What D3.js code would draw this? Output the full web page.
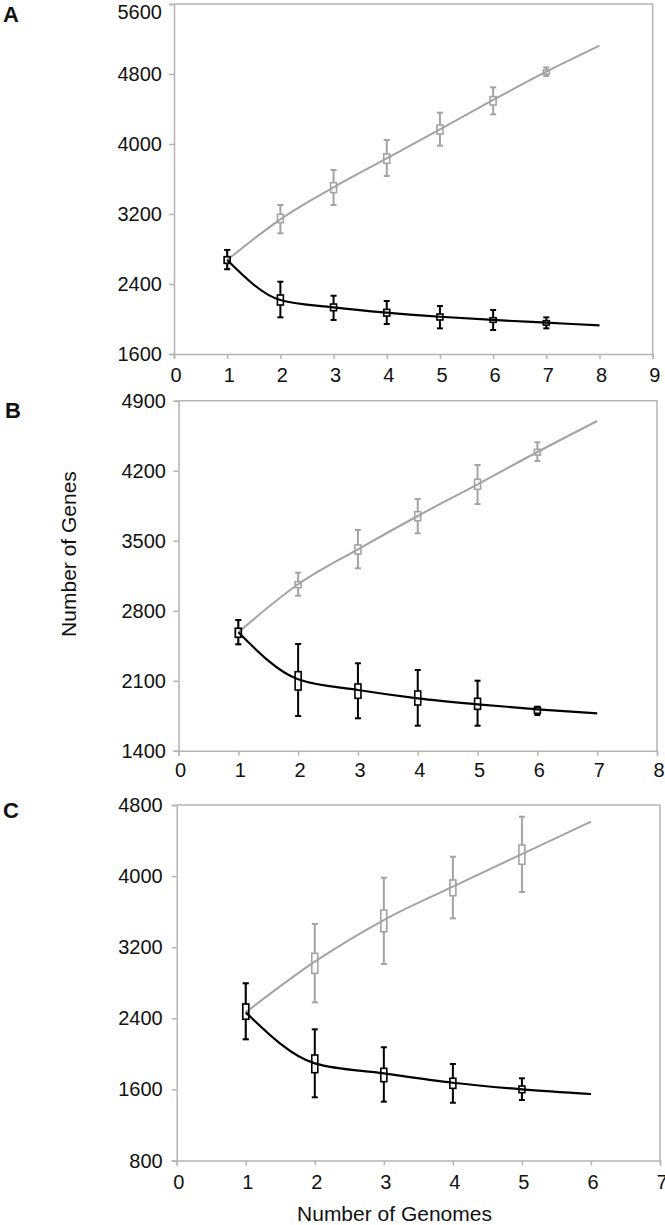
<!DOCTYPE html>
<html>
<head>
<meta charset="utf-8">
<script src="https://cdn.jsdelivr.net/npm/d3@7"></script>
<style>
  html, body { margin: 0; padding: 0; background: #fff; }
  svg { display: block; font-family: "Liberation Sans", Arial, sans-serif; }
  .lbl { font-size: 20px; font-family: "Liberation Sans", Arial, sans-serif; fill: #111; }
  .ttl { font-size: 21px; font-family: "Liberation Sans", Arial, sans-serif; fill: #111; }
  .let { font-size: 22px; font-weight: bold; font-family: "Liberation Sans", Arial, sans-serif; fill: #111; }
</style>
</head>
<body>
<svg id="chart" width="665" height="1225"></svg>
<script>
// ---------- Panel A ----------
const aGenomes = [1, 2, 3, 4, 5, 6, 7];
const aFitX = [1, 2, 3, 4, 5, 6, 7, 8];
const aYTicks = [1600, 2400, 3200, 4000, 4800, 5600];
const aXTicks = [0, 1, 2, 3, 4, 5, 6, 7, 8, 9];
const aPanMax = [2789, 3303, 3703, 4046, 4358, 4647, 4875];
const aPanQ3  = [2712, 3196, 3558, 3886, 4217, 4541, 4846];
const aPanQ1  = [2636, 3101, 3444, 3779, 4114, 4446, 4800];
const aPanMin = [2569, 2979, 3303, 3634, 3981, 4339, 4777];
const aPanFit = [2674, 3139, 3505, 3836, 4168, 4503, 4826, 5124];
const aCoreMax = [2789, 2426, 2266, 2206, 2149, 2103, 2019];
const aCoreQ3  = [2712, 2274, 2171, 2110, 2057, 2015, 1981];
const aCoreQ1  = [2636, 2160, 2095, 2034, 1989, 1962, 1931];
const aCoreMin = [2569, 2019, 1989, 1943, 1893, 1874, 1893];
const aCoreFit = [2674, 2217, 2133, 2072, 2026, 1989, 1958, 1927];

// ---------- Panel B ----------
const bGenomes = [1, 2, 3, 4, 5, 6];
const bFitX = [1, 2, 3, 4, 5, 6, 7];
const bYTicks = [1400, 2100, 2800, 3500, 4200, 4900];
const bXTicks = [0, 1, 2, 3, 4, 5, 6, 7, 8];
const bPanMax = [2707, 3180, 3607, 3917, 4257, 4484];
const bPanQ3  = [2624, 3090, 3457, 3790, 4114, 4414];
const bPanQ1  = [2534, 3030, 3367, 3700, 4014, 4357];
const bPanMin = [2464, 2950, 3224, 3574, 3867, 4297];
const bPanFit = [2584, 3064, 3414, 3747, 4064, 4387, 4697];
const bCoreMax = [2707, 2467, 2274, 2207, 2100, 1840];
const bCoreQ3  = [2624, 2190, 2067, 1997, 1924, 1834];
const bCoreQ1  = [2534, 2007, 1924, 1857, 1814, 1774];
const bCoreMin = [2464, 1747, 1724, 1650, 1650, 1757];
const bCoreFit = [2584, 2114, 2007, 1924, 1864, 1814, 1774];

// ---------- Panel C ----------
const cGenomes = [1, 2, 3, 4, 5];
const cFitX = [1, 2, 3, 4, 5, 6];
const cYTicks = [800, 1600, 2400, 3200, 4000, 4800];
const cXTicks = [0, 1, 2, 3, 4, 5, 6, 7];
const cPanMax = [2794, 3461, 3982, 4218, 4668];
const cPanQ3  = [2561, 3131, 3618, 3956, 4350];
const cPanQ1  = [2389, 2906, 3374, 3779, 4133];
const cPanMin = [2164, 2580, 3011, 3525, 3821];
const cPanFit = [2467, 3037, 3506, 3881, 4248, 4612];
const cCoreMax = [2794, 2276, 2074, 1886, 1725];
const cCoreQ3  = [2561, 1987, 1837, 1725, 1638];
const cCoreQ1  = [2389, 1788, 1687, 1612, 1563];
const cCoreMin = [2164, 1511, 1462, 1450, 1481];
const cCoreFit = [2467, 1893, 1781, 1675, 1601, 1548];

const yTitle = "Number of Genes";
const xTitle = "Number of Genomes";
const panelLetters = ["A", "B", "C"];

const GRAY = "#a3a3a3";
const AXIS = "#b4b4b4";
const svg = d3.select("#chart");

function zipSeries(xs, min, q1, q3, max) {
  return xs.map((x, i) => ({ x, min: min[i], q1: q1[i], q3: q3[i], max: max[i] }));
}

function drawPanel(p) {
  const x = d3.scaleLinear().domain(d3.extent(p.xTicks)).range([p.left, p.right]);
  const y = d3.scaleLinear().domain(d3.extent(p.yTicks)).range([p.bottom, p.top]);
  const g = svg.append("g");

  // frame (top & right)
  g.append("path")
    .attr("d", `M${p.left},${p.top}H${p.right}V${p.bottom}`)
    .attr("fill", "none").attr("stroke", AXIS).attr("stroke-width", 1.5);

  const yAxis = g.append("g").attr("transform", `translate(${p.left},0)`)
    .call(d3.axisLeft(y).tickValues(p.yTicks).tickSize(5).tickFormat(""));
  const xAxis = g.append("g").attr("transform", `translate(0,${p.bottom})`)
    .call(d3.axisBottom(x).tickValues(p.xTicks).tickSize(5).tickFormat(""));
  [yAxis, xAxis].forEach(ax => {
    ax.select(".domain").attr("stroke", AXIS).attr("stroke-width", 1.5);
    ax.selectAll(".tick line").attr("stroke", AXIS).attr("stroke-width", 1.5);
    ax.selectAll(".tick text").remove();
  });

  // tick labels
  g.append("g").selectAll("text").data(p.yTicks).join("text")
    .attr("class", "lbl")
    .attr("x", p.left - 5 - p.yPad)
    .attr("y", d => Math.max(12, y(d)))
    .attr("dy", "0.35em")
    .attr("text-anchor", "end")
    .text(d => d3.format("d")(d));
  g.append("g").selectAll("text").data(p.xTicks).join("text")
    .attr("class", "lbl")
    .attr("x", d => x(d) + 2)
    .attr("y", p.bottom + p.xOff)
    .attr("dy", "0.35em")
    .attr("text-anchor", "middle")
    .text(d => d3.format("d")(d));

  const line = d3.line().x(d => x(d[0])).y(d => y(d[1])).curve(d3.curveMonotoneX);

  const series = [
    { color: GRAY, fit: p.panFit, boxes: p.pan, lw: 2 },
    { color: "#000", fit: p.coreFit, boxes: p.core, lw: 2.2 }
  ];
  const bw = 6, cap = 6;
  series.forEach(s => {
    g.append("path").datum(p.fitX.map((xv, i) => [xv, s.fit[i]]))
      .attr("d", line).attr("fill", "none").attr("stroke", s.color).attr("stroke-width", s.lw);
    const bg = g.append("g").attr("stroke", s.color).attr("fill", "none");
    const b = bg.selectAll("g").data(s.boxes).join("g");
    b.append("line").attr("x1", d => x(d.x)).attr("x2", d => x(d.x))
      .attr("y1", d => y(d.max)).attr("y2", d => y(d.q3)).attr("stroke-width", 2);
    b.append("line").attr("x1", d => x(d.x)).attr("x2", d => x(d.x))
      .attr("y1", d => y(d.q1)).attr("y2", d => y(d.min)).attr("stroke-width", 2);
    b.append("line").attr("x1", d => x(d.x) - cap / 2).attr("x2", d => x(d.x) + cap / 2)
      .attr("y1", d => y(d.max)).attr("y2", d => y(d.max)).attr("stroke-width", 2);
    b.append("line").attr("x1", d => x(d.x) - cap / 2).attr("x2", d => x(d.x) + cap / 2)
      .attr("y1", d => y(d.min)).attr("y2", d => y(d.min)).attr("stroke-width", 2);
    b.append("rect").attr("x", d => x(d.x) - bw / 2).attr("width", bw)
      .attr("y", d => y(d.q3)).attr("height", d => Math.max(2, y(d.q1) - y(d.q3)))
      .attr("stroke-width", 1.6);
  });

  svg.append("text").attr("class", "let").attr("x", p.letterX).attr("y", p.letterY).text(p.letter);
}

drawPanel({
  letter: panelLetters[0], letterX: 3, letterY: 22,
  left: 174, right: 652.7, top: 4, bottom: 354, yPad: 7, xOff: 21,
  xTicks: aXTicks, yTicks: aYTicks, fitX: aFitX,
  panFit: aPanFit, coreFit: aCoreFit,
  pan: zipSeries(aGenomes, aPanMin, aPanQ1, aPanQ3, aPanMax),
  core: zipSeries(aGenomes, aCoreMin, aCoreQ1, aCoreQ3, aCoreMax)
});
drawPanel({
  letter: panelLetters[1], letterX: 5, letterY: 418,
  left: 178.5, right: 657, top: 400.7, bottom: 750.7, yPad: 7.5, xOff: 19,
  xTicks: bXTicks, yTicks: bYTicks, fitX: bFitX,
  panFit: bPanFit, coreFit: bCoreFit,
  pan: zipSeries(bGenomes, bPanMin, bPanQ1, bPanQ3, bPanMax),
  core: zipSeries(bGenomes, bCoreMin, bCoreQ1, bCoreQ3, bCoreMax)
});
drawPanel({
  letter: panelLetters[2], letterX: 3, letterY: 818,
  left: 176.7, right: 660, top: 805, bottom: 1160.5, yPad: 9, xOff: 21,
  xTicks: cXTicks, yTicks: cYTicks, fitX: cFitX,
  panFit: cPanFit, coreFit: cCoreFit,
  pan: zipSeries(cGenomes, cPanMin, cPanQ1, cPanQ3, cPanMax),
  core: zipSeries(cGenomes, cCoreMin, cCoreQ1, cCoreQ3, cCoreMax)
});

svg.append("text").attr("class", "ttl").attr("transform", "translate(76,554) rotate(-90)")
  .attr("text-anchor", "middle").text(yTitle);
svg.append("text").attr("class", "ttl").attr("x", 394.5).attr("y", 1221)
  .attr("text-anchor", "middle").text(xTitle);
</script>
</body>
</html>
